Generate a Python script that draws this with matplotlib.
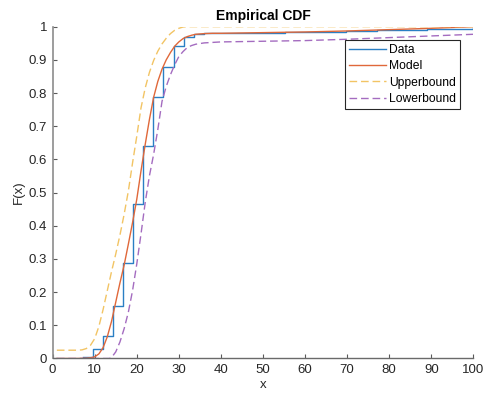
import matplotlib
matplotlib.use("Agg")
import matplotlib.pyplot as plt

plt.rcParams['font.family'] = ['Liberation Sans', 'DejaVu Sans']

# Empirical CDF (step positions and levels after each step)
data_x = [7.2, 9.6, 12.0, 14.35, 16.75, 19.15, 21.55, 23.95, 26.3, 28.75,
          31.15, 33.55, 35.95, 40.5, 55.3, 69.7, 77.0, 89.0, 100.0]
data_f = [0.004, 0.028, 0.068, 0.157, 0.287, 0.465, 0.640, 0.787, 0.879, 0.941,
          0.968, 0.977, 0.980, 0.981, 0.983, 0.988, 0.991, 0.994, 0.996]

# Fitted model CDF
model_x = [1, 6, 8, 9, 10, 11, 12, 13, 14, 15, 16, 17, 18, 19, 20, 21, 22, 23,
           24, 25, 26, 27, 28, 29, 30, 31, 32, 33, 34, 36, 38, 40, 45, 50, 60,
           70, 80, 90, 100]
model_f = [0.0, 0.0, 0.001, 0.002, 0.005, 0.014, 0.033, 0.066, 0.112, 0.17,
           0.228, 0.282, 0.345, 0.41, 0.48, 0.565, 0.645, 0.72, 0.787, 0.835,
           0.872, 0.90, 0.922, 0.941, 0.954, 0.964, 0.970, 0.974, 0.977, 0.979,
           0.980, 0.980, 0.981, 0.982, 0.984, 0.987, 0.991, 0.995, 1.0]

# Upper confidence bound
upper_x = [1, 6, 7, 8, 9, 10, 11, 12, 13, 14, 15, 16, 17, 18, 19, 20, 21, 22,
           23, 24, 25, 26, 27, 28, 29, 30, 31, 32, 100]
upper_f = [0.025, 0.025, 0.026, 0.030, 0.040, 0.060, 0.097, 0.148, 0.205, 0.262,
           0.315, 0.372, 0.435, 0.505, 0.59, 0.67, 0.755, 0.815, 0.862, 0.898,
           0.926, 0.948, 0.965, 0.979, 0.989, 0.995, 0.999, 1.0, 1.0]

# Lower confidence bound
lower_x = [1, 13.5, 14, 15, 16, 17, 18, 19, 20, 21, 22, 23, 24, 25, 26, 27, 28,
           29, 30, 31, 32, 33, 34, 36, 40, 50, 60, 70, 80, 90, 100]
lower_f = [0.0, 0.0, 0.003, 0.02, 0.05, 0.09, 0.14, 0.205, 0.285, 0.375, 0.47,
           0.55, 0.615, 0.69, 0.775, 0.82, 0.855, 0.885, 0.91, 0.925, 0.937,
           0.943, 0.947, 0.951, 0.954, 0.956, 0.958, 0.962, 0.967, 0.972, 0.977]

x_ticks = list(range(0, 101, 10))
y_ticks = [i / 10 for i in range(11)]
y_labels = ['0', '0.1', '0.2', '0.3', '0.4', '0.5', '0.6', '0.7', '0.8', '0.9', '1']

fig = plt.figure(figsize=(4.83, 3.96), dpi=100)
ax = fig.add_axes([0.109, 0.0947, 0.871, 0.838])

ax.step(data_x, data_f, where='post', color='#2a7fc4', lw=1.0, label='Data')
ax.plot(model_x, model_f, color='#e0683a', lw=1.0, label='Model')
ax.plot(upper_x, upper_f, color='#f2c464', lw=1.0, dashes=(5.5, 2.8), label='Upperbound')
ax.plot(lower_x, lower_f, color='#a46cc0', lw=1.0, dashes=(5.5, 2.8), label='Lowerbound')

ax.set_xlim(0, 100)
ax.set_ylim(0, 1)
ax.set_xticks(x_ticks)
ax.set_yticks(y_ticks)
ax.set_yticklabels(y_labels)

for side in ('top', 'right'):
    ax.spines[side].set_visible(False)
ax.spines['left'].set_color('#8c8c8c')
ax.spines['bottom'].set_color('#6a6a6a')
ax.spines['left'].set_linewidth(1.2)
ax.spines['bottom'].set_linewidth(1.0)
ax.tick_params(direction='in', length=3, width=0.8, colors='#5a5a5a',
               labelsize=9.5, labelcolor='#262626', pad=4)

ax.set_title('Empirical CDF', fontsize=10, fontweight='bold', color='#000000', pad=5)
ax.set_xlabel('x', fontsize=9.5, color='#262626', labelpad=2)
ax.set_ylabel('F(x)', fontsize=9.5, color='#262626', labelpad=3)

leg = ax.legend(loc='upper right', bbox_to_anchor=(0.968, 0.960), borderaxespad=0,
                fontsize=8.7, frameon=True, fancybox=False, handlelength=3.0,
                handletextpad=0.25, labelspacing=0.35, borderpad=0.35)
leg.get_frame().set_edgecolor('#262626')
leg.get_frame().set_linewidth(0.8)
leg.get_frame().set_alpha(1)

fig.savefig('out.png', dpi=100)
